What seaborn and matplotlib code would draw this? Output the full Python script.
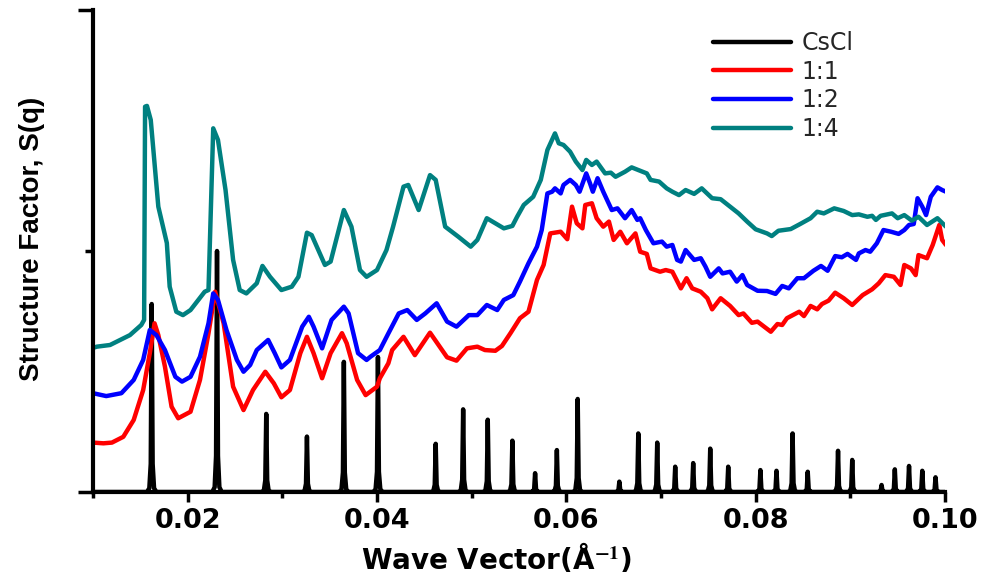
import matplotlib
matplotlib.use("Agg")
import matplotlib.pyplot as plt
import numpy as np
import pandas as pd
import seaborn as sns
from matplotlib.ticker import MultipleLocator, FixedLocator, NullFormatter

# ---------------- data ----------------
series_labels = ["CsCl", "1:1", "1:2", "1:4"]

# CsCl Bragg peaks: position (1/Å) and height
cscl_peak_q = [0.0162, 0.0231, 0.0283, 0.0326, 0.0365, 0.0401, 0.0462, 0.0491,
               0.0517, 0.0543, 0.0567, 0.0590, 0.0612, 0.0656, 0.0676, 0.0696,
               0.0715, 0.0734, 0.0752, 0.0771, 0.0805, 0.0822, 0.0839, 0.0855,
               0.0887, 0.0902, 0.0933, 0.0947, 0.0962, 0.0976, 0.0990]
cscl_peak_s = [0.78, 1.00, 0.324, 0.23, 0.54, 0.56, 0.20, 0.343,
               0.30, 0.213, 0.078, 0.174, 0.386, 0.043, 0.243, 0.205,
               0.105, 0.12, 0.18, 0.105, 0.091, 0.088, 0.243, 0.084,
               0.171, 0.133, 0.029, 0.094, 0.108, 0.088, 0.061]

# 1:1 (red)
r11_q = [0.0100, 0.0111, 0.0120, 0.0132, 0.0143, 0.0153, 0.0160, 0.0165, 0.0169, 0.0176,
         0.0183, 0.0190, 0.0203, 0.0213, 0.0222, 0.0229, 0.0238, 0.0248, 0.0259, 0.0269,
         0.0282, 0.0291, 0.0299, 0.0308, 0.0319, 0.0326, 0.0333, 0.0342, 0.0351, 0.0363,
         0.0368, 0.0379, 0.0388, 0.0400, 0.0403, 0.0412, 0.0416, 0.0428, 0.0440, 0.0456,
         0.0474, 0.0484, 0.0495, 0.0506, 0.0514, 0.0525, 0.0532, 0.0541, 0.0551, 0.0560,
         0.0569, 0.0576, 0.0583, 0.0594, 0.0601, 0.0606, 0.0611, 0.0617, 0.0620, 0.0627,
         0.0632, 0.0639, 0.0645, 0.0650, 0.0657, 0.0664, 0.0673, 0.0678, 0.0685, 0.0689,
         0.0699, 0.0705, 0.0712, 0.0721, 0.0727, 0.0733, 0.0742, 0.0749, 0.0754, 0.0763,
         0.0773, 0.0782, 0.0787, 0.0796, 0.0802, 0.0816, 0.0823, 0.0828, 0.0833, 0.0846,
         0.0851, 0.0858, 0.0865, 0.0870, 0.0877, 0.0884, 0.0893, 0.0902, 0.0913, 0.0923,
         0.0930, 0.0937, 0.0946, 0.0953, 0.0957, 0.0964, 0.0969, 0.0972, 0.0981, 0.0987,
         0.0994, 0.0997, 0.1001]
r11_s = [0.205, 0.202, 0.205, 0.229, 0.299, 0.423, 0.576, 0.700, 0.651, 0.520,
         0.354, 0.306, 0.333, 0.465, 0.659, 0.831, 0.700, 0.437, 0.340, 0.423,
         0.499, 0.451, 0.393, 0.423, 0.576, 0.644, 0.576, 0.472, 0.576, 0.659,
         0.617, 0.465, 0.402, 0.437, 0.472, 0.534, 0.589, 0.644, 0.568, 0.661,
         0.559, 0.545, 0.596, 0.603, 0.589, 0.586, 0.606, 0.659, 0.721, 0.748,
         0.880, 0.942, 1.073, 1.080, 1.049, 1.184, 1.115, 1.094, 1.191, 1.198,
         1.136, 1.101, 1.122, 1.046, 1.080, 1.032, 1.073, 0.997, 0.988, 0.928,
         0.914, 0.921, 0.914, 0.845, 0.887, 0.845, 0.831, 0.804, 0.758, 0.804,
         0.772, 0.734, 0.741, 0.702, 0.707, 0.665, 0.697, 0.693, 0.721, 0.748,
         0.730, 0.772, 0.758, 0.780, 0.794, 0.827, 0.804, 0.776, 0.817, 0.841,
         0.866, 0.900, 0.893, 0.859, 0.942, 0.928, 0.900, 0.983, 0.970, 1.025,
         1.108, 1.046, 1.025]

# 1:2 (blue)
r12_q = [0.0100, 0.0114, 0.0130, 0.0143, 0.0153, 0.0160, 0.0167, 0.0176, 0.0187, 0.0194,
         0.0203, 0.0213, 0.0222, 0.0227, 0.0232, 0.0241, 0.0252, 0.0259, 0.0266, 0.0273,
         0.0285, 0.0292, 0.0299, 0.0308, 0.0321, 0.0328, 0.0333, 0.0342, 0.0352, 0.0365,
         0.0370, 0.0380, 0.0389, 0.0393, 0.0403, 0.0412, 0.0423, 0.0432, 0.0442, 0.0451,
         0.0463, 0.0474, 0.0484, 0.0497, 0.0506, 0.0516, 0.0527, 0.0534, 0.0544, 0.0551,
         0.0560, 0.0569, 0.0574, 0.0580, 0.0585, 0.0588, 0.0594, 0.0597, 0.0604, 0.0610,
         0.0614, 0.0621, 0.0625, 0.0628, 0.0633, 0.0639, 0.0643, 0.0648, 0.0654, 0.0662,
         0.0669, 0.0675, 0.0678, 0.0684, 0.0692, 0.0701, 0.0706, 0.0712, 0.0717, 0.0721,
         0.0726, 0.0735, 0.0742, 0.0747, 0.0752, 0.0761, 0.0765, 0.0773, 0.0780, 0.0786,
         0.0791, 0.0802, 0.0812, 0.0821, 0.0828, 0.0835, 0.0844, 0.0851, 0.0861, 0.0869,
         0.0876, 0.0884, 0.0891, 0.0897, 0.0906, 0.0909, 0.0916, 0.0921, 0.0928, 0.0935,
         0.0943, 0.0951, 0.0957, 0.0962, 0.0967, 0.0971, 0.0976, 0.0980, 0.0985, 0.0992,
         0.0997, 0.1001]
r12_s = [0.410, 0.398, 0.410, 0.465, 0.548, 0.672, 0.651, 0.589, 0.478, 0.458,
         0.478, 0.561, 0.700, 0.824, 0.797, 0.672, 0.548, 0.499, 0.527, 0.589,
         0.631, 0.576, 0.517, 0.548, 0.686, 0.727, 0.686, 0.596, 0.714, 0.769,
         0.741, 0.576, 0.548, 0.561, 0.589, 0.658, 0.741, 0.755, 0.714, 0.741,
         0.783, 0.707, 0.686, 0.734, 0.734, 0.776, 0.755, 0.797, 0.817, 0.873,
         0.949, 1.018, 1.087, 1.239, 1.246, 1.260, 1.239, 1.274, 1.295, 1.274,
         1.246, 1.322, 1.281, 1.246, 1.302, 1.246, 1.212, 1.170, 1.177, 1.136,
         1.170, 1.129, 1.136, 1.087, 1.032, 1.039, 1.018, 1.025, 0.963, 0.956,
         1.004, 0.963, 0.970, 0.935, 0.893, 0.928, 0.907, 0.914, 0.873, 0.900,
         0.859, 0.835, 0.834, 0.822, 0.855, 0.845, 0.887, 0.887, 0.918, 0.938,
         0.918, 0.979, 0.974, 0.988, 0.963, 0.990, 1.004, 0.997, 1.032, 1.087,
         1.080, 1.071, 1.087, 1.108, 1.112, 1.219, 1.184, 1.149, 1.225, 1.264,
         1.253, 1.246]

# 1:4 (teal)
r14_q = [0.0100, 0.0104, 0.0118, 0.0139, 0.0151, 0.0154, 0.0155, 0.0157, 0.0161, 0.0169,
         0.0178, 0.0181, 0.0188, 0.0195, 0.0203, 0.0218, 0.0222, 0.0227, 0.0232, 0.0240,
         0.0248, 0.0255, 0.0262, 0.0273, 0.0279, 0.0287, 0.0299, 0.0310, 0.0317, 0.0326,
         0.0331, 0.0345, 0.0351, 0.0365, 0.0373, 0.0382, 0.0389, 0.0400, 0.0410, 0.0417,
         0.0428, 0.0433, 0.0444, 0.0456, 0.0462, 0.0472, 0.0486, 0.0499, 0.0506, 0.0516,
         0.0534, 0.0543, 0.0548, 0.0555, 0.0565, 0.0573, 0.0580, 0.0588, 0.0592, 0.0597,
         0.0604, 0.0610, 0.0617, 0.0621, 0.0627, 0.0632, 0.0641, 0.0647, 0.0652, 0.0662,
         0.0669, 0.0676, 0.0685, 0.0689, 0.0698, 0.0706, 0.0712, 0.0719, 0.0726, 0.0735,
         0.0743, 0.0754, 0.0763, 0.0773, 0.0782, 0.0791, 0.0800, 0.0812, 0.0817, 0.0824,
         0.0837, 0.0847, 0.0858, 0.0865, 0.0872, 0.0883, 0.0893, 0.0902, 0.0909, 0.0918,
         0.0923, 0.0927, 0.0932, 0.0944, 0.0950, 0.0957, 0.0965, 0.0972, 0.0981, 0.0992,
         0.1001]
r14_s = [0.598, 0.603, 0.610, 0.651, 0.693, 0.714, 1.599, 1.602, 1.544, 1.184,
         1.033, 0.852, 0.748, 0.734, 0.755, 0.831, 0.838, 1.509, 1.461, 1.253,
         0.963, 0.838, 0.824, 0.866, 0.938, 0.893, 0.838, 0.852, 0.893, 1.076,
         1.066, 0.942, 0.956, 1.170, 1.101, 0.921, 0.893, 0.921, 1.004, 1.101,
         1.267, 1.274, 1.170, 1.315, 1.295, 1.101, 1.059, 1.018, 1.046, 1.136,
         1.094, 1.104, 1.142, 1.191, 1.225, 1.295, 1.419, 1.488, 1.447, 1.440,
         1.412, 1.371, 1.336, 1.378, 1.357, 1.371, 1.322, 1.325, 1.308, 1.329,
         1.347, 1.336, 1.322, 1.295, 1.288, 1.260, 1.246, 1.232, 1.253, 1.237,
         1.260, 1.219, 1.215, 1.184, 1.156, 1.122, 1.090, 1.073, 1.062, 1.084,
         1.091, 1.112, 1.136, 1.163, 1.156, 1.177, 1.166, 1.149, 1.152, 1.142,
         1.146, 1.129, 1.146, 1.156, 1.136, 1.149, 1.126, 1.142, 1.108, 1.136,
         1.101]

xtick_values = [0.02, 0.04, 0.06, 0.08, 0.10]
xtick_labels = ["0.02", "0.04", "0.06", "0.08", "0.10"]

# ---------------- build the CsCl trace from the peak list ----------------
peak_offsets = [-0.0005, -0.00025, -0.0001, 0.0, 0.0001, 0.00025, 0.0005]
peak_fracs = [0.0, 0.02, 0.15, 1.0, 0.15, 0.02, 0.0]
cs_q, cs_s = [0.0100], [0.0]
for pq, ps in zip(cscl_peak_q, cscl_peak_s):
    for off, fr in zip(peak_offsets, peak_fracs):
        cs_q.append(pq + off)
        cs_s.append(ps * fr)
cs_q.append(0.1000)
cs_s.append(0.0)

frames = {
    "CsCl": pd.DataFrame({"q": cs_q, "s": cs_s}),
    "1:1": pd.DataFrame({"q": r11_q, "s": r11_s}),
    "1:2": pd.DataFrame({"q": r12_q, "s": r12_s}),
    "1:4": pd.DataFrame({"q": r14_q, "s": r14_s}),
}
colors = {"CsCl": "#000000", "1:1": "#FF0000", "1:2": "#0000FF", "1:4": "#008080"}

# ---------------- plot ----------------
sns.set_theme(style="ticks")
plt.rcParams["font.family"] = ["DejaVu Sans"]
plt.rcParams["mathtext.fontset"] = "stix"

fig = plt.figure(figsize=(9.84, 5.83), dpi=100)
ax = fig.add_axes([93 / 984, 91 / 583, 852 / 984, 482 / 583])

for name in series_labels:
    sns.lineplot(data=frames[name], x="q", y="s", ax=ax, sort=False,
                 estimator=None, color=colors[name], lw=3.2, label=name,
                 solid_joinstyle="round", solid_capstyle="round")

ax.set_xlim(0.01, 0.10)
ax.set_ylim(0, 2)

for side in ["top", "right"]:
    ax.spines[side].set_visible(False)
for side in ["left", "bottom"]:
    ax.spines[side].set_linewidth(3)
    ax.spines[side].set_color("black")

ax.set_xticks(xtick_values, xtick_labels, fontsize=19.5, fontweight="bold",
              family="DejaVu Sans")
ax.xaxis.set_minor_locator(MultipleLocator(0.01))
ax.yaxis.set_major_locator(FixedLocator([0, 2]))
ax.yaxis.set_minor_locator(FixedLocator([1]))
ax.yaxis.set_major_formatter(NullFormatter())
ax.tick_params(axis="x", which="major", direction="out", length=7.5, width=2.5,
               pad=4, colors="black")
ax.tick_params(axis="x", which="minor", direction="out", length=4.5, width=2.5,
               colors="black")
ax.tick_params(axis="y", which="major", direction="out", length=11, width=2.5,
               colors="black")
ax.tick_params(axis="y", which="minor", direction="out", length=6, width=2.5,
               colors="black")

ax.set_xlabel("Wave Vector(Å$^{\\mathbf{-1}}$)", fontsize=20, fontweight="bold",
              family="DejaVu Sans", color="black")
ax.set_ylabel("Structure Factor, S(q)", fontsize=20, fontweight="bold",
              family="Liberation Sans", color="black")
ax.xaxis.set_label_coords((497 - 93) / 852, (492 - 541) / 482)
ax.yaxis.set_label_coords((45 - 93) / 852, (492 - 239) / 482)

handles, labels = ax.get_legend_handles_labels()
ax.legend(handles, labels, loc="upper left",
          bbox_to_anchor=(713 / 984, 552 / 583), bbox_transform=fig.transFigure,
          frameon=False, fontsize=17, handlelength=3.3, handletextpad=0.45,
          labelspacing=0.2, borderpad=0, borderaxespad=0)

fig.savefig("out.png", dpi=100)
